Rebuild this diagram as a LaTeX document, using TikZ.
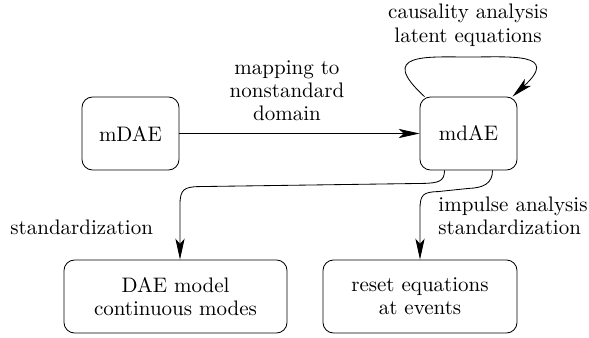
\documentclass[tikz,border=0pt]{standalone}
\usetikzlibrary{arrows.meta,calc}
\begin{document}
\begin{tikzpicture}[x=0.4762pt,y=-0.4762pt,
  box/.style={draw,rounded corners=5pt,minimum height=34.76pt,inner sep=0pt,align=center,font=\fontsize{10}{11}\selectfont},
  lbl/.style={inner sep=0pt,align=center,font=\fontsize{10}{11}\selectfont},
  arr/.style={-{Stealth[length=10pt,width=4.4pt,inset=2.5pt]}}]
\useasboundingbox (0,0) rectangle (589,337);
\node[box,minimum width=46.19pt] (mDAE) at (130.5,133.5) {mDAE};
\node[box,minimum width=46.19pt] (mdAE) at (468.5,133.5) {mdAE};
\node[box,minimum width=106.2pt] (DAE) at (175.5,296.5) {DAE model\\continuous modes};
\node[box,minimum width=92.38pt] (reset) at (420,296.5) {reset equations\\at events};
\node[lbl] (lmap) at (287,90.4) {mapping to\\nonstandard\\domain};
\node[lbl] (lcaus) at (468,25.2) {causality analysis\\latent equations};
\node[lbl] (lstd) at (81.7,227.7) {standardization};
\node[lbl,anchor=west,align=left] (limp) at (438,216) {impulse analysis\\standardization};

\draw[arr] (mDAE) -- (mdAE);
\coordinate (ltop) at (469,57);
\draw[arr] (mdAE.140) .. controls +(-48,-44) and +(-42,0) .. (ltop) .. controls +(42,0) and +(48,-44) .. (mdAE.40);

\coordinate (s1) at ($(mdAE.south)+(-24,0)$);
\coordinate (e1) at ($(DAE.north)+(4.5,0)$);
\draw[arr] (s1) .. controls +(0,11) and +(16,-0.3) .. ($(s1)+(-22,13)$) -- ($(e1)+(19,-73)$) .. controls +(-15,0.3) and +(0,-15) .. ($(e1)+(0,-55)$) -- (e1);

\coordinate (s2) at ($(mdAE.south)+(24,0)$);
\draw[arr] (s2) .. controls +(0,13) and +(15,-0.5) .. ($(s2)+(-24,18)$) -- ($(reset.north)+(18,-68)$) .. controls +(-15,0.5) and +(0,-15) .. ($(reset.north)+(0,-50)$) -- (reset.north);
\end{tikzpicture}
\end{document}
